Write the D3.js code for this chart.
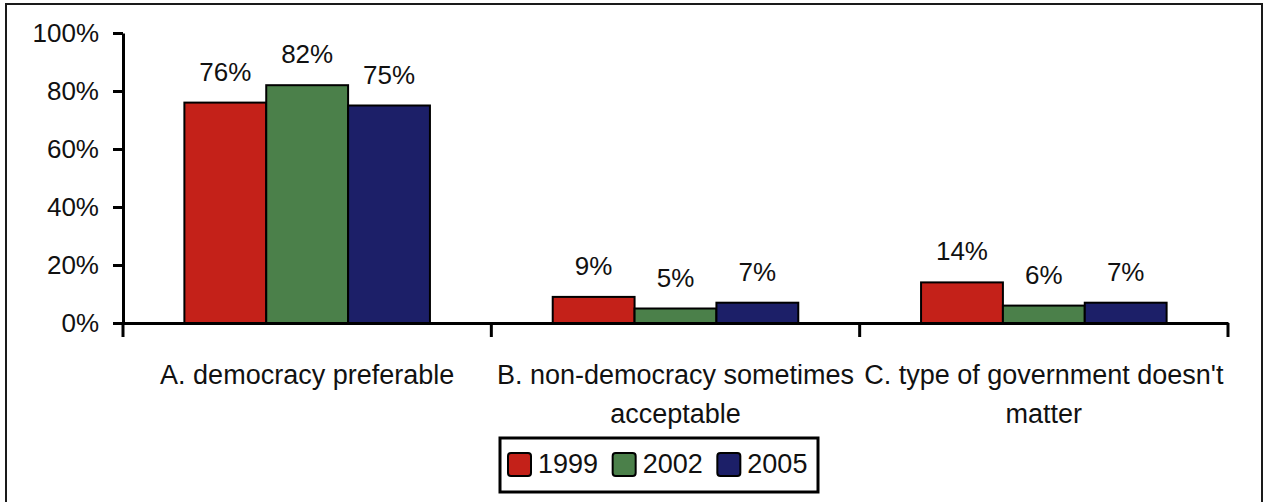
<!DOCTYPE html>
<html><head><meta charset="utf-8">
<script src="https://cdn.jsdelivr.net/npm/d3@7"></script>
<style>
body{margin:0;background:#fff}
text{font-family:"Liberation Sans",Arial,sans-serif;fill:#111}
</style>
</head><body>
<svg id="c" width="1265" height="502"></svg>
<script>
const categories = ["A. democracy preferable", "B. non-democracy sometimes acceptable", "C. type of government doesn't matter"];
const years = ["1999", "2002", "2005"];
const values1999 = [76, 9, 14];
const values2002 = [82, 5, 6];
const values2005 = [75, 7, 7];
const yTicks = [0, 20, 40, 60, 80, 100];
const seriesColors = ["#c42119", "#4b804a", "#1c1f68"];

const series = [values1999, values2002, values2005];
const svg = d3.select("#c");

// outer border
svg.append("rect").attr("x", 6).attr("y", 4).attr("width", 1256).attr("height", 520)
  .attr("fill", "none").attr("stroke", "#1a1a1a").attr("stroke-width", 2);

const x0 = d3.scaleBand().domain(categories).range([123, 1228]).padding(0);
const x1 = d3.scaleBand().domain(years).range([0, x0.bandwidth()]).paddingInner(0).paddingOuter(0.75);
const y = d3.scaleLinear().domain([0, 100]).range([323, 33]);
const color = d3.scaleOrdinal().domain(years).range(seriesColors);

const rows = [];
categories.forEach((c, ci) => years.forEach((yr, si) => rows.push({c, yr, v: series[si][ci]})));

// bars
svg.append("g").selectAll("rect").data(rows).join("rect")
  .attr("x", d => x0(d.c) + x1(d.yr))
  .attr("y", d => y(d.v))
  .attr("width", x1.bandwidth())
  .attr("height", d => y(0) - y(d.v))
  .attr("fill", d => color(d.yr))
  .attr("stroke", "#000").attr("stroke-width", 2);

// data labels
svg.append("g").selectAll("text").data(rows).join("text")
  .attr("x", d => x0(d.c) + x1(d.yr) + x1.bandwidth() / 2)
  .attr("y", d => y(d.v) - 22)
  .attr("text-anchor", "middle")
  .attr("font-size", 26)
  .text(d => d.v + "%");

// y axis
const yAxis = svg.append("g").attr("transform", `translate(123,0)`)
  .call(d3.axisLeft(y).tickValues(yTicks).tickFormat(d => d + "%").tickSize(10).tickPadding(14).tickSizeOuter(0));
yAxis.select(".domain").attr("stroke", "#000").attr("stroke-width", 3);
yAxis.selectAll(".tick line").attr("stroke", "#000").attr("stroke-width", 3);
yAxis.selectAll(".tick text").attr("font-size", 26).attr("fill", "#111")
  .attr("font-family", '"Liberation Sans",Arial,sans-serif');

// x axis
const xAxis = svg.append("g").attr("transform", `translate(0,${y(0)})`)
  .call(d3.axisBottom(x0).tickSize(0).tickSizeOuter(0).tickFormat(""));
xAxis.select(".domain").attr("stroke", "#000").attr("stroke-width", 3);
xAxis.selectAll(".tick").remove();

// category boundary ticks
const bounds = categories.map(c => x0(c)).concat([x0.range()[1]]);
svg.append("g").selectAll("line").data(bounds).join("line")
  .attr("x1", d => d).attr("x2", d => d)
  .attr("y1", y(0)).attr("y2", y(0) + 14)
  .attr("stroke", "#000").attr("stroke-width", 3);

// category labels with wrapping
const catG = svg.append("g");
categories.forEach(c => {
  const t = catG.append("text")
    .attr("x", x0(c) + x0.bandwidth() / 2)
    .attr("y", 384)
    .attr("text-anchor", "middle")
    .attr("font-size", 27);
  const words = c.split(" ");
  let line = [];
  let lineNo = 0;
  let tspan = t.append("tspan").attr("x", x0(c) + x0.bandwidth() / 2).attr("dy", 0);
  words.forEach(w => {
    line.push(w);
    tspan.text(line.join(" "));
    if (tspan.node().getComputedTextLength() > x0.bandwidth() + 10 && line.length > 1) {
      line.pop();
      tspan.text(line.join(" "));
      line = [w];
      lineNo++;
      tspan = t.append("tspan").attr("x", x0(c) + x0.bandwidth() / 2).attr("dy", 39).text(w);
    }
  });
});

// legend
const lg = svg.append("g");
lg.append("rect").attr("x", 500).attr("y", 438).attr("width", 318).attr("height", 54)
  .attr("fill", "#fff").attr("stroke", "#000").attr("stroke-width", 3);
const lx = d3.scaleBand().domain(years).range([506, 820]);
const items = lg.selectAll("g.item").data(years).join("g").attr("class", "item");
items.append("rect")
  .attr("x", d => lx(d) + 2).attr("y", 453)
  .attr("width", 23).attr("height", 23).attr("rx", 3)
  .attr("fill", d => color(d)).attr("stroke", "#000").attr("stroke-width", 2);
items.append("text")
  .attr("x", d => lx(d) + 32).attr("y", 473)
  .attr("font-size", 27)
  .text(d => d);
</script>
</body></html>
